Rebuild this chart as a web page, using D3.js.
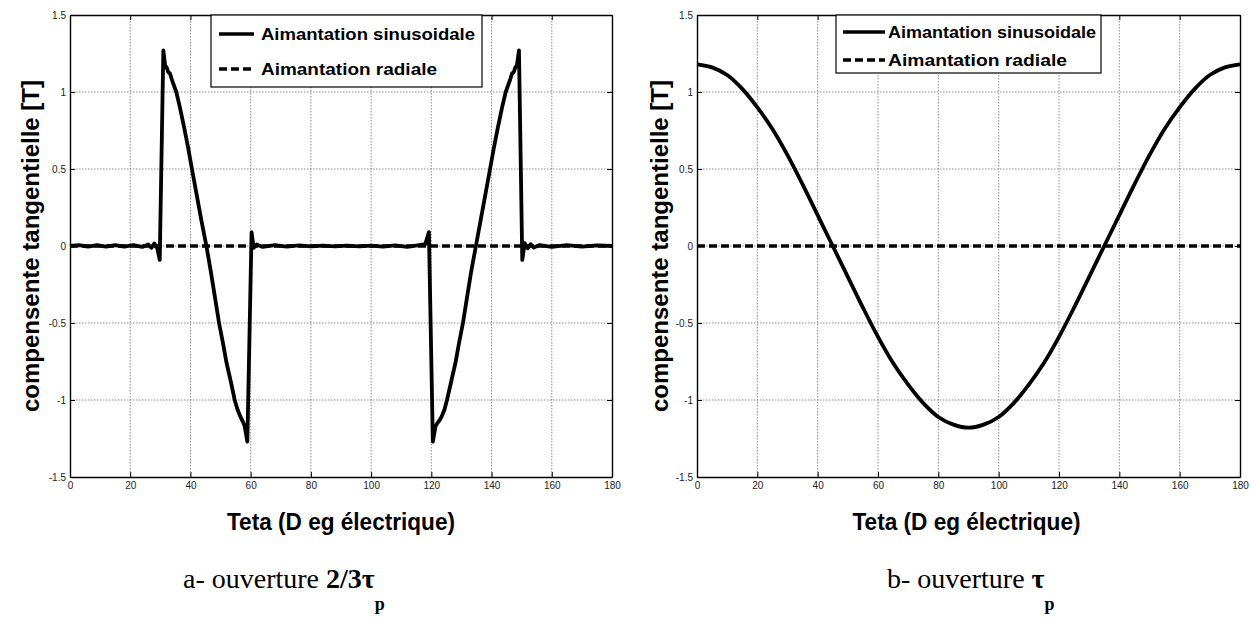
<!DOCTYPE html>
<html>
<head>
<meta charset="utf-8">
<script src="https://cdn.jsdelivr.net/npm/d3@7"></script>
<style>
  body { margin: 0; background: #fff; }
  svg { display: block; }
</style>
</head>
<body>
<div id="vis"></div>
<script>
const FRAME_WIDTH = 1254;
const FRAME_HEIGHT = 627;

// tick values
const X_TICKS = [0, 20, 40, 60, 80, 100, 120, 140, 160, 180];
const Y_TICKS = [-1.5, -1, -0.5, 0, 0.5, 1, 1.5];
const Y_TICK_LABELS = ["-1.5", "-1", "-0.5", "0", "0.5", "1", "1.5"];

// legend entries
const SERIES_NAMES = ["Aimantation sinusoidale", "Aimantation radiale"];

// (a) ouverture 2/3 tau_p : sinusoidal magnetisation
const THETA_A = [0, 3, 6, 9, 12, 15, 18, 21, 24, 26, 27, 28, 29, 29.8, 31, 31.6, 32.1, 32.6, 33.2, 34,
  35.3, 36.5, 38, 39.3, 40.5, 42, 43.6, 45.3, 46.8, 48.2, 49.5, 50.8, 52, 53.4, 54.7, 55.6, 56.4, 57.4,
  58, 58.9, 60.3, 61, 62, 64, 68, 72, 76, 80, 84, 88, 92, 96, 100, 104, 108, 112, 116, 118, 119.2,
  120.5, 121.4, 122, 122.8, 123.6, 124.4, 125.2, 126.6, 128, 129.2, 130.5, 131.8, 133.2, 134.8, 136.4,
  138, 139.5, 140.7, 142, 143.5, 144.7, 146, 146.8, 147.4, 147.9, 148.4, 149.1, 150.2, 151, 152, 153,
  154, 156, 160, 165, 170, 175, 180];
const SINUS_A = [0, 0.005, -0.004, 0.005, -0.004, 0.005, -0.004, 0.006, -0.006, 0.01, -0.012, 0.016,
  -0.015, -0.09, 1.27, 1.17, 1.16, 1.13, 1.12, 1.07,
  1.0, 0.9, 0.76, 0.63, 0.5, 0.34, 0.17, 0, -0.17, -0.34, -0.5, -0.63, -0.76, -0.88, -1.0, -1.06, -1.1, -1.14,
  -1.17, -1.27, 0.09, -0.012, 0.01, -0.006, 0.005, -0.004, 0.004, -0.003, 0.003, -0.003, 0.003, -0.003,
  0.003, -0.004, 0.004, -0.005, 0.006, 0.012, 0.09,
  -1.27, -1.17, -1.15, -1.13, -1.1, -1.06, -1.0, -0.88, -0.76, -0.63, -0.5, -0.34, -0.17, 0, 0.17,
  0.34, 0.5, 0.63, 0.76, 0.9, 1.0, 1.07, 1.12, 1.13, 1.16, 1.17, 1.27, -0.09, 0.018, -0.015, 0.012,
  -0.01, 0.006, -0.005, 0.005, -0.004, 0.004, 0];
const RADIAL_A = [0, 0];
const RADIAL_THETA = [0, 180];

// (b) ouverture tau_p
const THETA_B = [0, 5, 10, 15, 20, 25, 30, 35, 40, 45, 50, 55, 60, 65, 70, 75, 80, 85, 90,
  95, 100, 105, 110, 115, 120, 125, 130, 135, 140, 145, 150, 155, 160, 165, 170, 175, 180];
const SINUS_B = [1.18, 1.16, 1.11, 1.02, 0.90, 0.76, 0.59, 0.40, 0.20, 0.00, -0.20, -0.40, -0.59,
  -0.76, -0.90, -1.02, -1.11, -1.16, -1.18, -1.16, -1.11, -1.02, -0.90, -0.76, -0.59, -0.40, -0.20,
  0.00, 0.20, 0.40, 0.59, 0.76, 0.90, 1.02, 1.11, 1.16, 1.18];
const RADIAL_B = [0, 0];

const FRAME = d3.select("#vis")
                .append("svg")
                .attr("width", FRAME_WIDTH)
                .attr("height", FRAME_HEIGHT);

const SANS = "Arial, 'Liberation Sans', sans-serif";
const SERIF = "'Times New Roman', 'Liberation Serif', serif";

function draw_panel(p) {
  const X_SCALE = d3.scaleLinear().domain([0, 180]).range([p.left, p.right]);
  const Y_SCALE = d3.scaleLinear().domain([-1.5, 1.5]).range([p.bottom, p.top]);
  const g = FRAME.append("g");

  // dotted grid
  g.append("g").selectAll("line")
    .data(X_TICKS.slice(1, -1))
    .enter().append("line")
      .attr("x1", d => X_SCALE(d)).attr("x2", d => X_SCALE(d))
      .attr("y1", p.top).attr("y2", p.bottom)
      .attr("stroke", "#808080").attr("stroke-width", 0.9)
      .attr("stroke-dasharray", "1.5,1.5");
  g.append("g").selectAll("line")
    .data(Y_TICKS.slice(1, -1))
    .enter().append("line")
      .attr("x1", p.left).attr("x2", p.right)
      .attr("y1", d => Y_SCALE(d)).attr("y2", d => Y_SCALE(d))
      .attr("stroke", "#808080").attr("stroke-width", 0.9)
      .attr("stroke-dasharray", "1.5,1.5");

  // axes, ticks pointing inwards
  g.append("g")
    .attr("transform", "translate(0," + p.bottom + ")")
    .call(d3.axisBottom(X_SCALE).tickValues(X_TICKS).tickSize(-5).tickSizeOuter(0).tickPadding(5));
  g.append("g")
    .attr("transform", "translate(" + p.left + ",0)")
    .call(d3.axisLeft(Y_SCALE).tickValues(Y_TICKS).tickSize(-5).tickSizeOuter(0).tickPadding(4)
      .tickFormat((d, i) => Y_TICK_LABELS[i]));
  g.append("g")
    .attr("transform", "translate(0," + p.top + ")")
    .call(d3.axisTop(X_SCALE).tickValues(X_TICKS).tickSize(-5).tickSizeOuter(0).tickFormat(""));
  g.append("g")
    .attr("transform", "translate(" + p.right + ",0)")
    .call(d3.axisRight(Y_SCALE).tickValues(Y_TICKS).tickSize(-5).tickSizeOuter(0).tickFormat(""));
  g.selectAll(".domain").attr("stroke", "#000").attr("stroke-width", 1.4);
  g.selectAll(".tick line").attr("stroke", "#000");
  g.selectAll(".tick text")
    .attr("font-family", SANS).attr("font-size", 10).attr("fill", "#222");

  // curves
  const line = d3.line()
    .x(d => X_SCALE(d[0]))
    .y(d => Y_SCALE(d[1]))
    .curve(p.smooth ? d3.curveCatmullRom : d3.curveLinear);

  g.append("path")
    .datum(d3.zip(RADIAL_THETA, p.radial))
    .attr("d", line)
    .attr("fill", "none").attr("stroke", "#000")
    .attr("stroke-width", 3.5).attr("stroke-dasharray", "8,4");
  g.append("path")
    .datum(d3.zip(p.theta, p.sinus))
    .attr("d", line)
    .attr("fill", "none").attr("stroke", "#000")
    .attr("stroke-width", 3.8).attr("stroke-linejoin", "round");

  // legend
  const lg = g.append("g");
  lg.append("rect")
    .attr("x", p.lg.x).attr("y", p.lg.y)
    .attr("width", p.lg.w).attr("height", p.lg.h)
    .attr("fill", "#fff").attr("stroke", "#000").attr("stroke-width", 1.2);
  SERIES_NAMES.forEach((name, i) => {
    const cy = p.lg.rows[i];
    lg.append("line")
      .attr("x1", p.lg.lx1).attr("x2", p.lg.lx2)
      .attr("y1", cy).attr("y2", cy)
      .attr("stroke", "#000").attr("stroke-width", 3.5)
      .attr("stroke-dasharray", i === 1 ? "8,4" : null);
    lg.append("text")
      .attr("x", p.lg.tx).attr("y", cy + 6)
      .attr("font-family", SANS).attr("font-weight", "bold")
      .attr("font-size", p.lg.fs)
      .attr("textLength", p.lg.tl[i]).attr("lengthAdjust", "spacingAndGlyphs")
      .text(name);
  });

  // axis titles
  g.append("text")
    .attr("x", (p.left + p.right) / 2 + p.xlShift).attr("y", 530)
    .attr("text-anchor", "middle")
    .attr("font-family", SANS).attr("font-weight", "bold").attr("font-size", 24)
    .attr("textLength", 228).attr("lengthAdjust", "spacingAndGlyphs")
    .text("Teta (D eg électrique)");
  g.append("text")
    .attr("transform", "translate(" + p.ylx + "," + (p.top + p.bottom) / 2 + ") rotate(-90)")
    .attr("text-anchor", "middle")
    .attr("font-family", SANS).attr("font-weight", "bold").attr("font-size", 24)
    .attr("textLength", 332).attr("lengthAdjust", "spacingAndGlyphs")
    .text("compensente tangentielle [T]");

  // caption
  const cap = FRAME.append("text")
    .attr("x", p.capX).attr("y", 588)
    .attr("font-family", SERIF).attr("font-size", 28);
  cap.append("tspan").text(p.capText);
  cap.append("tspan").attr("font-weight", "bold").text(p.capBold);
  cap.append("tspan").attr("font-weight", "bold").attr("font-size", 18)
    .attr("dy", 22).text("p");
}

draw_panel({
  left: 70, right: 612, top: 15, bottom: 477,
  theta: THETA_A, sinus: SINUS_A, radial: RADIAL_A, smooth: false,
  lg: {x: 211, y: 15, w: 271, h: 72, lx1: 219, lx2: 254, tx: 261, rows: [34, 69], fs: 17, tl: [214, 176]},
  xlShift: 0, ylx: 39,
  capX: 183, capText: "a- ouverture ", capBold: "2/3τ"
});

draw_panel({
  left: 697, right: 1240, top: 15, bottom: 477,
  theta: THETA_B, sinus: SINUS_B, radial: RADIAL_B, smooth: true,
  lg: {x: 836, y: 15, w: 265, h: 58, lx1: 843, lx2: 885, tx: 888, rows: [32, 60], fs: 16, tl: [208, 179]},
  xlShift: -2, ylx: 668,
  capX: 887, capText: "b- ouverture ", capBold: "τ"
});
</script>
</body>
</html>
